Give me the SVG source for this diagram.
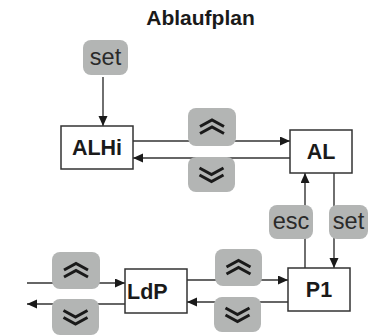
<svg xmlns="http://www.w3.org/2000/svg" width="381" height="336" viewBox="0 0 381 336">
<style>
.box{fill:#fff;stroke:#333;stroke-width:1.5}
.btn{fill:#b3b5b4}
.lbl{font-family:"Liberation Sans",Arial,sans-serif;font-weight:bold;font-size:21.5px;fill:#1a1a1a}
.btxt{font-family:"Liberation Sans",Arial,sans-serif;font-size:23.5px;fill:#2a2a2a;text-anchor:middle}
.ln{fill:none;stroke:#333;stroke-width:1.4}
.chev{fill:none;stroke:#1a1a1a;stroke-width:3}
</style>
<defs>
<marker id="ah" markerUnits="userSpaceOnUse" markerWidth="11" markerHeight="10" refX="10" refY="4.5" orient="auto">
<path d="M0,0 L10,4.5 L0,9 z" fill="#1a1a1a"/>
</marker>
<path id="up" class="chev" d="M-12,-0.5 L0,-7 L12,-0.5 M-12,6.5 L0,0 L12,6.5"/>
<path id="dn" class="chev" d="M-12,0.5 L0,7 L12,0.5 M-12,-6.5 L0,0 L12,-6.5"/>
</defs>
<rect width="381" height="336" fill="#fff"/>
<text x="200.5" y="25" text-anchor="middle" style="font-family:'Liberation Sans',Arial,sans-serif;font-weight:bold;font-size:21px;fill:#1a1a1a">Ablaufplan</text>
<g id="connectors">
<line class="ln" x1="103" y1="77" x2="103" y2="126" marker-end="url(#ah)"/>
<line class="ln" x1="133" y1="141" x2="290" y2="141" marker-end="url(#ah)"/>
<line class="ln" x1="290" y1="158" x2="133" y2="158" marker-end="url(#ah)"/>
<line class="ln" x1="305" y1="268" x2="305" y2="173" marker-end="url(#ah)"/>
<line class="ln" x1="334" y1="173" x2="334" y2="268" marker-end="url(#ah)"/>
<line class="ln" x1="187" y1="280" x2="288" y2="280" marker-end="url(#ah)"/>
<line class="ln" x1="288" y1="302" x2="187" y2="302" marker-end="url(#ah)"/>
<line class="ln" x1="27" y1="283" x2="125" y2="283" marker-end="url(#ah)"/>
<line class="ln" x1="125" y1="304" x2="27" y2="304" marker-end="url(#ah)"/>
</g>
<g id="btn-set-top"><rect class="btn" x="83" y="40" width="45" height="35" rx="8"/><text class="btxt" x="105.5" y="65">set</text></g>
<g id="ALHi"><rect class="box" x="61" y="126" width="72" height="43"/><text class="lbl" x="97" y="155" text-anchor="middle">ALHi</text></g>
<g id="AL"><rect class="box" x="290" y="130" width="62" height="43"/><text class="lbl" x="321" y="159" text-anchor="middle">AL</text></g>
<g id="P1"><rect class="box" x="288" y="268" width="62" height="43"/><text class="lbl" x="319" y="297" text-anchor="middle">P1</text></g>
<g id="LdP"><rect class="box" x="125" y="269" width="62" height="44"/><text class="lbl" x="127" y="298.5">LdP</text></g>
<g id="btn-up-1"><rect class="btn" x="188" y="108" width="48" height="38" rx="8"/><use href="#up" x="212" y="127"/></g>
<g id="btn-dn-1"><rect class="btn" x="188" y="157" width="47" height="35" rx="8"/><use href="#dn" x="211.5" y="174.5"/></g>
<g id="btn-esc"><rect class="btn" x="269" y="205" width="44" height="34" rx="8"/><text class="btxt" x="291" y="229">esc</text></g>
<g id="btn-set"><rect class="btn" x="329" y="205" width="39" height="34" rx="8"/><text class="btxt" x="348.5" y="229">set</text></g>
<g id="btn-up-2"><rect class="btn" x="215" y="249" width="47" height="37" rx="8"/><use href="#up" x="238.5" y="267.5"/></g>
<g id="btn-dn-2"><rect class="btn" x="214" y="297" width="47" height="35" rx="8"/><use href="#dn" x="237.5" y="314.5"/></g>
<g id="btn-up-3"><rect class="btn" x="52" y="252" width="48" height="37" rx="8"/><use href="#up" x="76" y="270.5"/></g>
<g id="btn-dn-3"><rect class="btn" x="52" y="299" width="47" height="36" rx="8"/><use href="#dn" x="75.5" y="317"/></g>
</svg>
